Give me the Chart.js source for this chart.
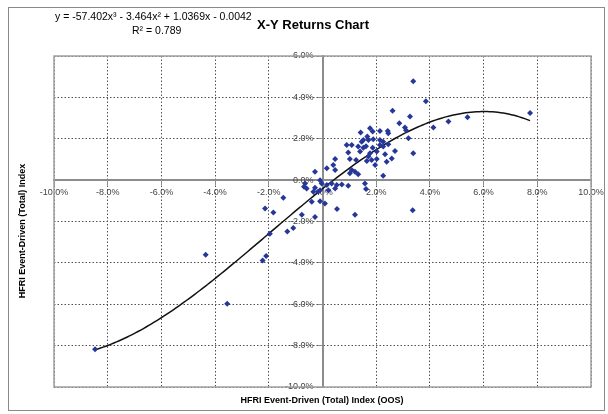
<!DOCTYPE html>
<html>
<head>
<meta charset="utf-8">
<title>X-Y Returns Chart</title>
<script src="https://cdn.jsdelivr.net/npm/chart.js@4.4.0/dist/chart.umd.min.js"></script>
<style>
  html, body { margin: 0; padding: 0; background: #fff; }
  #wrap { width: 608px; height: 414px; }
</style>
</head>
<body>
<div id="wrap"><canvas id="xyChart" width="608" height="414"></canvas></div>
<script>
// monthly returns in % (OOS index on x, index on y)
const retX = [
  -8.47, -4.35, -3.55, -2.10, -2.23, -1.96, -2.14, -1.83, -1.46, -1.31,
  -1.09, -0.77, -0.28, -0.40, -0.09, 0.09, 0.54, 1.21, 3.36, -0.69,
  -0.65, -0.59, -0.34, -0.09, -0.09, -0.03, 0.34, 0.53, 0.72, 0.96,
  1.58, 1.62, 2.26, -0.28, 0.16, 0.47, 0.40, 0.47, 1.09, 1.21,
  1.02, 1.33, 1.02, 1.25, 1.65, 1.83, 1.96, 2.39, 0.90, 1.09,
  1.46, 1.71, 1.33, 1.62, 2.14, 2.45, 0.96, 1.40, 1.77, 2.02,
  2.33, 2.70, 3.38, 3.20, 2.26, 1.42, 1.77, 1.87, 2.14, 2.43,
  1.67, 1.52, 1.89, 2.14, 2.45, 2.61, 3.26, 2.86, 3.07, 3.11,
  3.38, 3.85, 4.13, 4.69, 5.40, 7.73, 1.71, 2.02, 2.58, 2.26,
  1.87, 1.52, -0.16, 0.22, 0.47, -0.28, 0.16
];
const retY = [
  -8.17, -3.61, -5.97, -3.67, -3.88, -2.59, -1.37, -1.57, -0.85, -2.48,
  -2.31, -1.67, -1.78, -1.05, -1.02, -1.13, -1.40, -1.67, -1.46, -0.32,
  -0.16, -0.40, -0.56, -0.49, 0.00, -0.16, -0.16, -0.24, -0.21, -0.27,
  -0.16, -0.43, 0.21, 0.41, 0.57, 0.49, 0.73, 1.02, 0.49, 0.41,
  0.33, 0.28, 1.02, 0.97, 0.92, 0.97, 0.73, 0.89, 1.70, 1.70,
  1.86, 1.94, 1.62, 1.64, 1.70, 1.73, 1.34, 1.38, 1.30, 1.38,
  1.25, 1.41, 1.30, 2.02, 1.86, 2.30, 2.51, 2.35, 2.38, 2.38,
  2.11, 1.94, 1.98, 1.94, 2.27, 3.35, 3.08, 2.75, 2.54, 2.41,
  4.78, 3.81, 2.54, 2.83, 3.04, 3.24, 1.14, 1.02, 1.05, 1.62,
  1.57, 1.57, -0.56, -0.49, -0.40, -0.37, -0.24
];

// cubic trendline as printed on the chart (x, y as decimals)
const trendCoef = [-57.402, -3.464, 1.0369, -0.0042];
const trendRange = [-8.47, 7.73];

const xLimits = [-10, 10];
const yLimits = [-10, 6];
const tickStep = 2;

const chartTitle = 'X-Y Returns Chart';
const eqText = 'y = -57.402x\u00b3 - 3.464x\u00b2 + 1.0369x - 0.0042';
const r2Text = 'R\u00b2 = 0.789';
const xTitle = 'HFRI Event-Driven (Total) Index (OOS)';
const yTitle = 'HFRI Event-Driven (Total) Index';

const FONT = '"Liberation Sans", Arial, sans-serif';
const MARKER = '#26379a';
const GRID = '#505050';
const AXIS = '#8c8c8c';

function trendPoints() {
  const pts = [];
  const [a, b, c, d] = trendCoef;
  for (let x = trendRange[0]; x <= trendRange[1] + 1e-9; x += 0.1) {
    const t = x / 100;
    pts.push({ x: x, y: (a * t * t * t + b * t * t + c * t + d) * 100 });
  }
  return pts;
}

const scatterData = retX.map((x, i) => ({ x: x, y: retY[i] }));

const framePlugin = {
  id: 'frame',
  beforeDraw(chart) {
    const ctx = chart.ctx;
    ctx.save();
    ctx.fillStyle = '#fff';
    ctx.fillRect(0, 0, chart.width, chart.height);
    ctx.strokeStyle = '#8a8a8a';
    ctx.lineWidth = 1;
    ctx.strokeRect(8.5, 7.5, 596, 403);
    ctx.restore();
  },
  afterDraw(chart) {
    const ctx = chart.ctx;
    const area = chart.chartArea;
    ctx.save();
    ctx.strokeStyle = '#a0a0a0';
    ctx.lineWidth = 1.5;
    ctx.strokeRect(area.left, area.top, area.right - area.left, area.bottom - area.top);

    ctx.fillStyle = '#000';
    ctx.textBaseline = 'middle';
    ctx.textAlign = 'left';
    ctx.font = '10.5px ' + FONT;
    ctx.fillText(eqText, 55, 17);
    ctx.fillText(r2Text, 132, 31);

    ctx.font = 'bold 13px ' + FONT;
    ctx.fillText(chartTitle, 257, 25);

    ctx.textAlign = 'center';
    ctx.font = 'bold 9px ' + FONT;
    ctx.fillText(xTitle, 322, 401);

    ctx.translate(23, 231);
    ctx.rotate(-Math.PI / 2);
    ctx.fillText(yTitle, 0, 0);
    ctx.restore();
  }
};

Chart.defaults.font.family = FONT;

new Chart(document.getElementById('xyChart'), {
  type: 'scatter',
  data: {
    datasets: [{
      label: 'Returns',
      data: scatterData,
      pointStyle: 'rectRot',
      pointRadius: 3,
      backgroundColor: MARKER,
      borderColor: MARKER,
      borderWidth: 0
    }, {
      type: 'line',
      label: 'Poly. (Returns)',
      data: trendPoints(),
      borderColor: '#111',
      borderWidth: 1.5,
      pointRadius: 0,
      fill: false,
      tension: 0
    }]
  },
  options: {
    responsive: false,
    animation: false,
    layout: { padding: { left: 54, right: 17, top: 56, bottom: 27 } },
    plugins: {
      legend: { display: false },
      tooltip: { enabled: false }
    },
    scales: {
      x: {
        type: 'linear',
        position: { y: 0 },
        min: xLimits[0],
        max: xLimits[1],
        ticks: {
          stepSize: tickStep,
          color: '#444',
          font: { size: 9 },
          padding: 3,
          maxRotation: 0,
          callback: v => v.toFixed(1) + '%'
        },
        grid: { color: GRID, lineWidth: 1, tickLength: 4, tickColor: AXIS },
        border: { display: true, color: AXIS, width: 2, dash: [1.5, 2] }
      },
      y: {
        type: 'linear',
        position: { x: 0 },
        min: yLimits[0],
        max: yLimits[1],
        ticks: {
          stepSize: tickStep,
          color: '#444',
          font: { size: 9 },
          // labels sit right against a positioned axis, so pad with spaces
          callback: v => v.toFixed(1) + '%\u2002\u2002'
        },
        grid: { color: GRID, lineWidth: 1, tickLength: 4, tickColor: AXIS },
        border: { display: true, color: AXIS, width: 2, dash: [1.5, 2] }
      }
    }
  },
  plugins: [framePlugin]
});
</script>
</body>
</html>
